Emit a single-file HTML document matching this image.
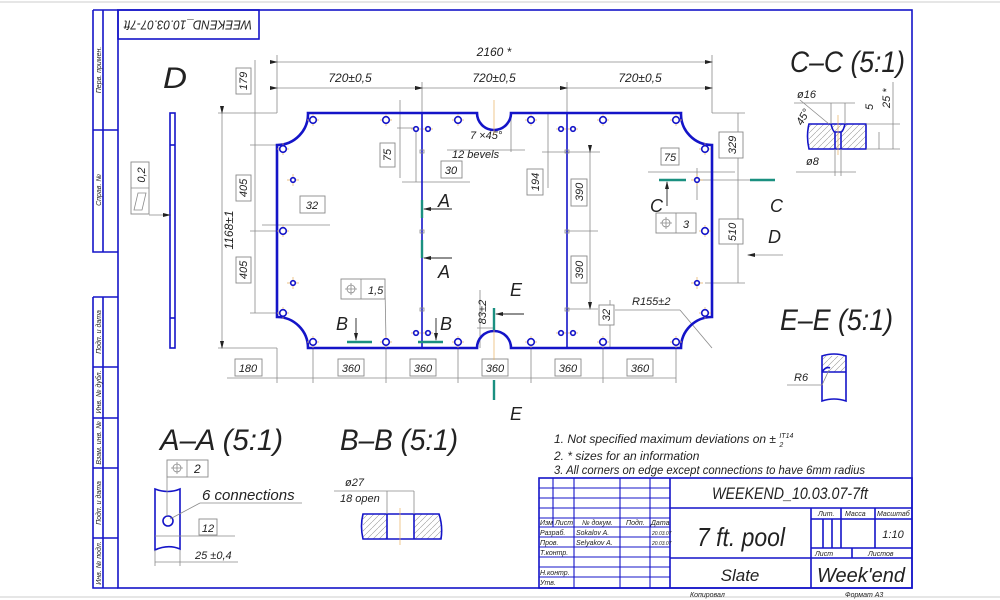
<!DOCTYPE html>
<html><head><meta charset="utf-8"><style>
html,body{margin:0;padding:0;background:#fff}
svg{display:block}
text{font-family:"Liberation Sans","DejaVu Sans",sans-serif;font-style:italic;fill:#222}
.b{stroke:#1414c8;fill:none;stroke-width:1.6}
.bt{stroke:#1414c8;fill:none;stroke-width:2.6}
.g{stroke:#8a8a8a;fill:none;stroke-width:0.8}
.gb{stroke:#8a8a8a;fill:#fff;stroke-width:0.9}
.t{stroke:#1a9080;stroke-width:2.4;fill:none}
.o{stroke:#e8b060;stroke-width:0.7}
</style></head><body>
<svg width="1000" height="600" viewBox="0 0 1000 600" xmlns="http://www.w3.org/2000/svg">
<defs>
<marker id="ar" markerWidth="8" markerHeight="6" refX="7" refY="3" orient="auto" markerUnits="userSpaceOnUse"><path d="M0,1 L8,3 L0,5z" fill="#222"/></marker>
<pattern id="h" width="6" height="6" patternUnits="userSpaceOnUse"><path d="M0,6 L6,0" stroke="#999" stroke-width="0.6"/></pattern>
</defs>
<rect width="1000" height="600" fill="#fff"/>
<line x1="0" y1="2" x2="1000" y2="2" stroke="#ccc"/>
<line x1="0" y1="597" x2="1000" y2="597" stroke="#ccc"/>
<rect x="118" y="10" width="794" height="578" class="b"/>
<path class="b" d="M93,10 H118 M93,10 V252 H118 M103,10 V252 M93,130 H118 M93,297 H118 M93,297 V588 H118 M103,297 V588 M93,367 H118 M93,418 H118 M93,468 H118 M93,538 H118"/>
<g font-size="7">
<text transform="translate(101,70) rotate(-90)" text-anchor="middle">Перв. примен.</text>
<text transform="translate(101,190) rotate(-90)" text-anchor="middle">Справ. №</text>
<text transform="translate(101,332) rotate(-90)" text-anchor="middle">Подп. и дата</text>
<text transform="translate(101,392) rotate(-90)" text-anchor="middle">Инв. № дубл.</text>
<text transform="translate(101,443) rotate(-90)" text-anchor="middle">Взам. инв. №</text>
<text transform="translate(101,503) rotate(-90)" text-anchor="middle">Подп. и дата</text>
<text transform="translate(101,563) rotate(-90)" text-anchor="middle">Инв. № подл.</text>
</g>
<rect x="118" y="10" width="141" height="29" class="b"/>
<text transform="translate(188,24) rotate(180)" text-anchor="middle" font-size="13" dominant-baseline="middle" textLength="128" lengthAdjust="spacingAndGlyphs">WEEKEND_10.03.07-7ft</text>

<text x="163" y="88" font-size="30" textLength="24" lengthAdjust="spacingAndGlyphs">D</text>
<text x="790" y="72" font-size="30" textLength="115" lengthAdjust="spacingAndGlyphs">C–C (5:1)</text>
<text x="780" y="330" font-size="30" textLength="113" lengthAdjust="spacingAndGlyphs">E–E (5:1)</text>
<text x="160" y="450" font-size="30" textLength="123" lengthAdjust="spacingAndGlyphs">A–A (5:1)</text>
<text x="340" y="450" font-size="30" textLength="118" lengthAdjust="spacingAndGlyphs">B–B (5:1)</text>

<rect x="170" y="113" width="5" height="235" class="b"/>
<line x1="170" y1="145" x2="175" y2="145" class="b"/>
<line x1="170" y1="318" x2="175" y2="318" class="b"/>
<rect x="131" y="162" width="18" height="52" class="gb"/>
<line x1="131" y1="188" x2="149" y2="188" class="g"/>
<text transform="translate(145,175) rotate(-90)" text-anchor="middle" font-size="11">0,2</text>
<path d="M134,210 L138,193 L146,193 L142,210z" class="g"/>
<line x1="149" y1="215" x2="170" y2="215" class="g" marker-end="url(#ar)"/>

<g class="g">
<line x1="277" y1="55" x2="277" y2="113"/><line x1="712" y1="55" x2="712" y2="113"/>
<line x1="422" y1="82" x2="422" y2="113"/><line x1="567" y1="82" x2="567" y2="113"/>
<line x1="277" y1="62" x2="712" y2="62" marker-end="url(#ar)" marker-start="url(#ar)"/>
<line x1="277" y1="88" x2="422" y2="88" marker-end="url(#ar)" marker-start="url(#ar)"/>
<line x1="422" y1="88" x2="567" y2="88" marker-end="url(#ar)" marker-start="url(#ar)"/>
<line x1="567" y1="88" x2="712" y2="88" marker-end="url(#ar)" marker-start="url(#ar)"/>
<line x1="218" y1="113" x2="277" y2="113"/><line x1="218" y1="348" x2="277" y2="348"/>
<line x1="250" y1="145" x2="283" y2="145"/><line x1="250" y1="231" x2="283" y2="231"/><line x1="250" y1="313" x2="283" y2="313"/>
<line x1="222" y1="113" x2="222" y2="348" marker-end="url(#ar)" marker-start="url(#ar)"/>
<line x1="255" y1="60" x2="255" y2="313"/>
<line x1="262" y1="225" x2="330" y2="225"/>
<line x1="227" y1="378" x2="676" y2="378"/>
<line x1="277" y1="348" x2="277" y2="383"/><line x1="313" y1="342" x2="313" y2="383"/><line x1="386" y1="342" x2="386" y2="383"/>
<line x1="458" y1="342" x2="458" y2="383"/><line x1="531" y1="342" x2="531" y2="383"/><line x1="603" y1="342" x2="603" y2="383"/><line x1="676" y1="342" x2="676" y2="383"/>
<line x1="400" y1="100" x2="400" y2="178"/><line x1="397" y1="128" x2="416" y2="128"/>
<line x1="402" y1="182" x2="470" y2="182"/><line x1="416" y1="128" x2="416" y2="182"/>
<line x1="447" y1="150" x2="525" y2="150"/><line x1="511" y1="113" x2="511" y2="152"/>
<line x1="548" y1="113" x2="548" y2="188"/><line x1="542" y1="152" x2="600" y2="152"/>
<line x1="590" y1="152" x2="590" y2="309" marker-end="url(#ar)" marker-start="url(#ar)"/>
<line x1="567" y1="231" x2="598" y2="231"/><line x1="567" y1="309" x2="598" y2="309"/>
<line x1="610" y1="300" x2="610" y2="348"/>
<line x1="480" y1="290" x2="480" y2="348"/><line x1="477" y1="328" x2="494" y2="328"/>
<line x1="648" y1="172" x2="735" y2="172"/><line x1="697" y1="168" x2="697" y2="200"/>
<line x1="712" y1="113" x2="745" y2="113"/><line x1="697" y1="180" x2="760" y2="180"/><line x1="705" y1="283" x2="745" y2="283"/>
<line x1="738" y1="113" x2="738" y2="283"/>
<line x1="615" y1="310" x2="680" y2="310"/><line x1="680" y1="310" x2="712" y2="348"/>
<line x1="783" y1="255" x2="748" y2="255" marker-end="url(#ar)"/>
</g>
<g font-size="12">
<text x="494" y="56" text-anchor="middle">2160 *</text>
<text x="350" y="82" text-anchor="middle">720±0,5</text>
<text x="494" y="82" text-anchor="middle">720±0,5</text>
<text x="640" y="82" text-anchor="middle">720±0,5</text>
<text transform="translate(233,230) rotate(-90)" text-anchor="middle">1168±1</text>
<text x="470" y="139" font-size="11">7 ×45°</text>
<text x="452" y="158" font-size="11">12 bevels</text>
<text x="632" y="305" font-size="11">R155±2</text>
<text transform="translate(486,312) rotate(-90)" text-anchor="middle" font-size="11">83±2</text>
</g>
<g font-size="11">
<g><rect x="236" y="68" width="15" height="26" class="gb"/><text transform="translate(247,81) rotate(-90)" text-anchor="middle">179</text></g>
<g><rect x="236" y="175" width="15" height="26" class="gb"/><text transform="translate(247,188) rotate(-90)" text-anchor="middle">405</text></g>
<g><rect x="236" y="257" width="15" height="26" class="gb"/><text transform="translate(247,270) rotate(-90)" text-anchor="middle">405</text></g>
<g><rect x="300" y="196" width="25" height="17" class="gb"/><text x="312" y="209" text-anchor="middle">32</text></g>
<g><rect x="380" y="143" width="15" height="24" class="gb"/><text transform="translate(391,155) rotate(-90)" text-anchor="middle">75</text></g>
<g><rect x="441" y="161" width="21" height="17" class="gb"/><text x="451" y="174" text-anchor="middle">30</text></g>
<g><rect x="527" y="169" width="16" height="26" class="gb"/><text transform="translate(539,182) rotate(-90)" text-anchor="middle">194</text></g>
<g><rect x="571" y="179" width="16" height="27" class="gb"/><text transform="translate(583,192) rotate(-90)" text-anchor="middle">390</text></g>
<g><rect x="571" y="256" width="16" height="27" class="gb"/><text transform="translate(583,270) rotate(-90)" text-anchor="middle">390</text></g>
<g><rect x="599" y="305" width="15" height="20" class="gb"/><text transform="translate(610,315) rotate(-90)" text-anchor="middle">32</text></g>
<g><rect x="661" y="148" width="18" height="17" class="gb"/><text x="670" y="161" text-anchor="middle">75</text></g>
<g><rect x="719" y="132" width="24" height="26" class="gb"/><text transform="translate(736,145) rotate(-90)" text-anchor="middle">329</text></g>
<g><rect x="719" y="219" width="24" height="25" class="gb"/><text transform="translate(736,232) rotate(-90)" text-anchor="middle">510</text></g>
<g><rect x="235" y="359" width="27" height="17" class="gb"/><text x="248" y="372" text-anchor="middle">180</text></g>
<g><rect x="338" y="359" width="26" height="17" class="gb"/><text x="351" y="372" text-anchor="middle">360</text></g>
<g><rect x="410" y="359" width="26" height="17" class="gb"/><text x="423" y="372" text-anchor="middle">360</text></g>
<g><rect x="482" y="359" width="26" height="17" class="gb"/><text x="495" y="372" text-anchor="middle">360</text></g>
<g><rect x="555" y="359" width="26" height="17" class="gb"/><text x="568" y="372" text-anchor="middle">360</text></g>
<g><rect x="627" y="359" width="26" height="17" class="gb"/><text x="640" y="372" text-anchor="middle">360</text></g>
<g><rect x="341" y="279" width="44" height="20" class="gb"/><line x1="361" y1="279" x2="361" y2="299" class="g"/><circle cx="351" cy="289" r="4" class="g"/><path d="M345,289H357M351,283V295" class="g"/><text x="368" y="294">1,5</text><line x1="385" y1="289" x2="386" y2="340" class="g"/></g>
<g><rect x="656" y="213" width="40" height="20" class="gb"/><line x1="676" y1="213" x2="676" y2="233" class="g"/><circle cx="666" cy="223" r="4" class="g"/><path d="M660,223H672M666,217V229" class="g"/><text x="683" y="228">3</text></g>
</g>

<path class="bt" d="M308,113 H477 A17,17 0 0 0 511,113 H681 A31,31 0 0 0 712,145 V317 A31,31 0 0 0 681,348 H511 A17,17 0 0 0 477,348 H308 A31,31 0 0 0 277,317 V145 A31,31 0 0 0 308,113 Z"/>
<line x1="422" y1="113" x2="422" y2="348" class="b"/>
<line x1="567" y1="113" x2="567" y2="348" class="b"/>
<g class="g"><rect x="420" y="150" width="4" height="3"/><rect x="420" y="230" width="4" height="3"/><rect x="420" y="308" width="4" height="3"/><rect x="565" y="150" width="4" height="3"/><rect x="565" y="230" width="4" height="3"/><rect x="565" y="308" width="4" height="3"/></g>
<g class="o"><line x1="494" y1="100" x2="494" y2="135"/><line x1="494" y1="327" x2="494" y2="360"/></g>

<g>
<g class="o">
<path d="M307,120h12M313,114v12 M380,120h12M386,114v12 M452,120h12M458,114v12 M525,120h12M531,114v12 M597,120h12M603,114v12 M670,120h12M676,114v12"/>
<path d="M307,342h12M313,336v12 M380,342h12M386,336v12 M452,342h12M458,336v12 M525,342h12M531,336v12 M597,342h12M603,336v12 M670,342h12M676,336v12"/>
<path d="M277,149h12M283,143v12 M277,231h12M283,225v12 M277,313h12M283,307v12 M287,180h12M293,174v12 M287,283h12M293,277v12"/>
<path d="M699,149h12M705,143v12 M699,231h12M705,225v12 M699,313h12M705,307v12 M691,180h12M697,174v12 M691,283h12M697,277v12"/>
<path d="M411,129h10M423,129h10M556,129h10M568,129h10M411,333h10M423,333h10M556,333h10M568,333h10"/>
</g>
<g fill="#fff" stroke="#1414c8" stroke-width="1.6">
<circle cx="313" cy="120" r="3.3"/><circle cx="386" cy="120" r="3.3"/><circle cx="458" cy="120" r="3.3"/><circle cx="531" cy="120" r="3.3"/><circle cx="603" cy="120" r="3.3"/><circle cx="676" cy="120" r="3.3"/>
<circle cx="313" cy="342" r="3.3"/><circle cx="386" cy="342" r="3.3"/><circle cx="458" cy="342" r="3.3"/><circle cx="531" cy="342" r="3.3"/><circle cx="603" cy="342" r="3.3"/><circle cx="676" cy="342" r="3.3"/>
<circle cx="283" cy="149" r="3.3"/><circle cx="283" cy="231" r="3.3"/><circle cx="283" cy="313" r="3.3"/>
<circle cx="705" cy="149" r="3.3"/><circle cx="705" cy="231" r="3.3"/><circle cx="705" cy="313" r="3.3"/>
<circle cx="293" cy="180" r="2.3"/><circle cx="293" cy="283" r="2.3"/><circle cx="697" cy="180" r="2.3"/><circle cx="697" cy="283" r="2.3"/>
<circle cx="416" cy="129" r="2.3"/><circle cx="428" cy="129" r="2.3"/><circle cx="561" cy="129" r="2.3"/><circle cx="573" cy="129" r="2.3"/>
<circle cx="416" cy="333" r="2.3"/><circle cx="428" cy="333" r="2.3"/><circle cx="561" cy="333" r="2.3"/><circle cx="573" cy="333" r="2.3"/>
</g>
</g>

<g class="t">
<line x1="422" y1="200" x2="422" y2="218"/><line x1="422" y1="240" x2="422" y2="258"/>
<line x1="347" y1="342" x2="372" y2="342"/><line x1="418" y1="342" x2="443" y2="342"/>
<line x1="494" y1="308" x2="494" y2="330"/><line x1="494" y1="380" x2="494" y2="400"/>
<line x1="659" y1="180" x2="686" y2="180"/><line x1="750" y1="180" x2="775" y2="180"/>
</g>
<g stroke="#222" stroke-width="0.9">
<line x1="452" y1="209" x2="424" y2="209" marker-end="url(#ar)"/>
<line x1="452" y1="258" x2="424" y2="258" marker-end="url(#ar)"/>
<line x1="356" y1="318" x2="356" y2="340" marker-end="url(#ar)"/>
<line x1="436" y1="318" x2="436" y2="340" marker-end="url(#ar)"/>
<line x1="524" y1="314" x2="496" y2="314" marker-end="url(#ar)"/>
<line x1="667" y1="206" x2="667" y2="182" marker-end="url(#ar)"/>
</g>
<g font-size="18">
<text x="438" y="207">A</text><text x="438" y="278">A</text>
<text x="336" y="330">B</text><text x="440" y="330">B</text>
<text x="510" y="296">E</text><text x="510" y="420">E</text>
<text x="650" y="212">C</text><text x="770" y="212">C</text>
<text x="768" y="243">D</text>
</g>

<g>
<rect x="809" y="124" width="57" height="25" fill="url(#h)"/>
<path class="b" d="M809,124 H866 V149 H809 Q806,136 809,124 Z"/>
<path class="b" d="M831,124 Q833,132 835,132 H841 Q843,132 845,124 M835,132 V149 M841,132 V149"/>
<line x1="838" y1="115" x2="838" y2="155" class="o"/>
<g class="g"><line x1="794" y1="103" x2="855" y2="103"/><line x1="831" y1="103" x2="831" y2="124"/><line x1="845" y1="103" x2="845" y2="124"/>
<line x1="796" y1="172" x2="856" y2="172"/><line x1="835" y1="149" x2="835" y2="176"/><line x1="841" y1="149" x2="841" y2="176"/>
<line x1="866" y1="124" x2="900" y2="124"/><line x1="866" y1="149" x2="900" y2="149"/><line x1="879" y1="132" x2="879" y2="149"/>
<line x1="893" y1="82" x2="893" y2="149"/><line x1="800" y1="100" x2="829" y2="124"/></g>
<text x="797" y="98" font-size="11">ø16</text>
<text x="806" y="165" font-size="11">ø8</text>
<text transform="translate(873,110) rotate(-90)" font-size="11">5</text>
<text transform="translate(890,108) rotate(-90)" font-size="11">25 *</text>
<text transform="translate(802,126) rotate(-60)" font-size="11">45°</text>
</g>

<g>
<rect x="822" y="356" width="24" height="16" fill="url(#h)"/>
<path class="b" d="M822,356 Q834,352 846,356 V401 Q834,397 822,401 Z M822,372 H846"/>
<path class="b" d="M822,372 Q826,366 830,368"/>
<line x1="787" y1="385" x2="822" y2="385" class="g"/><line x1="822" y1="385" x2="829" y2="370" class="g"/>
<text x="794" y="381" font-size="11">R6</text>
</g>

<g>
<path class="b" d="M155,489 Q168,494 180,489 V549 Q168,544 155,550 Z"/>
<circle cx="168" cy="521" r="5" class="b"/>
<rect x="167" y="460" width="41" height="17" class="gb"/><line x1="187" y1="460" x2="187" y2="477" class="g"/>
<circle cx="177" cy="468" r="4" class="g"/><path d="M171,468H183M177,462V474" class="g"/>
<text x="194" y="473" font-size="12">2</text>
<g class="g"><line x1="167" y1="477" x2="167" y2="516"/><line x1="170" y1="519" x2="200" y2="503"/><line x1="200" y1="503" x2="302" y2="503"/>
<line x1="155" y1="536" x2="235" y2="536"/><line x1="155" y1="550" x2="155" y2="566"/><line x1="180" y1="550" x2="180" y2="566"/>
<line x1="155" y1="562" x2="238" y2="562"/></g>
<text x="202" y="500" font-size="15">6 connections</text>
<rect x="199" y="519" width="18" height="16" class="gb"/><text x="208" y="532" text-anchor="middle" font-size="11">12</text>
<text x="195" y="559" font-size="11">25 ±0,4</text>
</g>

<g>
<rect x="363" y="514" width="78" height="25" fill="url(#h)"/>
<rect x="387" y="514" width="27" height="25" fill="#fff"/>
<path class="b" d="M363,514 H439 Q443,526 441,539 H363 Q360,526 363,514 Z M387,514 V539 M414,514 V539"/>
<line x1="400" y1="508" x2="400" y2="545" class="o"/>
<g class="g"><line x1="334" y1="491" x2="414" y2="491"/><line x1="387" y1="491" x2="387" y2="514"/><line x1="414" y1="491" x2="414" y2="514"/></g>
<text x="345" y="486" font-size="11">ø27</text>
<text x="340" y="502" font-size="11">18 open</text>
</g>

<g font-size="12">
<text x="554" y="443">1. Not specified maximum deviations on ± <tspan font-size="7" dy="-5">IT14</tspan><tspan font-size="7" dx="-14" dy="9">2</tspan></text>
<text x="554" y="460">2.  * sizes for an information</text>
<text x="554" y="474" textLength="311" lengthAdjust="spacingAndGlyphs">3. All corners on edge except connections to have 6mm radius</text>
</g>

<g class="b">
<rect x="539" y="478" width="373" height="110"/>
<path d="M670,478 V588 M670,508 H912 M670,558 H912 M811,508 V588 M811,519 H912 M841,508 V548 M875,508 V548 M811,548 H912 M852,548 V558 M823,519 V548 M832,519 V548"/>
<path d="M553,478 V527 M574,478 V588 M620,478 V588 M650,478 V588 M539,488 H670 M539,498 H670 M539,508 H670 M539,518 H670 M539,527 H670 M539,537 H670 M539,547 H670 M539,557 H670 M539,567 H670 M539,577 H670" stroke-width="1.1"/>
</g>
<g font-size="7">
<text x="540" y="525">Изм</text><text x="555" y="525" fill="#aaa">Лист</text><text x="582" y="525">№ докум.</text><text x="626" y="525">Подп.</text><text x="651" y="525" fill="#aaa">Дата</text>
<text x="540" y="535">Разраб.</text><text x="576" y="535">Sokalov A.</text>
<text x="540" y="545">Пров.</text><text x="576" y="545">Selyakov A.</text>
<text x="540" y="555">Т.контр.</text>
<text x="540" y="575">Н.контр.</text><text x="540" y="585">Утв.</text>
<text x="652" y="535" font-size="5" fill="#888">20.03.07</text><text x="652" y="545" font-size="5" fill="#888">20.03.07</text>
<text x="818" y="516">Лит.</text><text x="845" y="516">Масса</text><text x="877" y="516">Масштаб</text>
<text x="815" y="556">Лист</text><text x="868" y="556">Листов</text>
<text x="690" y="597">Копировал</text><text x="845" y="597">Формат    А3</text>
</g>
<text x="712" y="499" font-size="17" textLength="156" lengthAdjust="spacingAndGlyphs">WEEKEND_10.03.07-7ft</text>
<text x="697" y="546" font-size="26" textLength="88" lengthAdjust="spacingAndGlyphs">7 ft. pool</text>
<text x="740" y="581" font-size="17" text-anchor="middle">Slate</text>
<text x="861" y="582" font-size="20" text-anchor="middle">Week'end</text>
<text x="893" y="538" font-size="11" text-anchor="middle">1:10</text>
</svg>
</body></html>
